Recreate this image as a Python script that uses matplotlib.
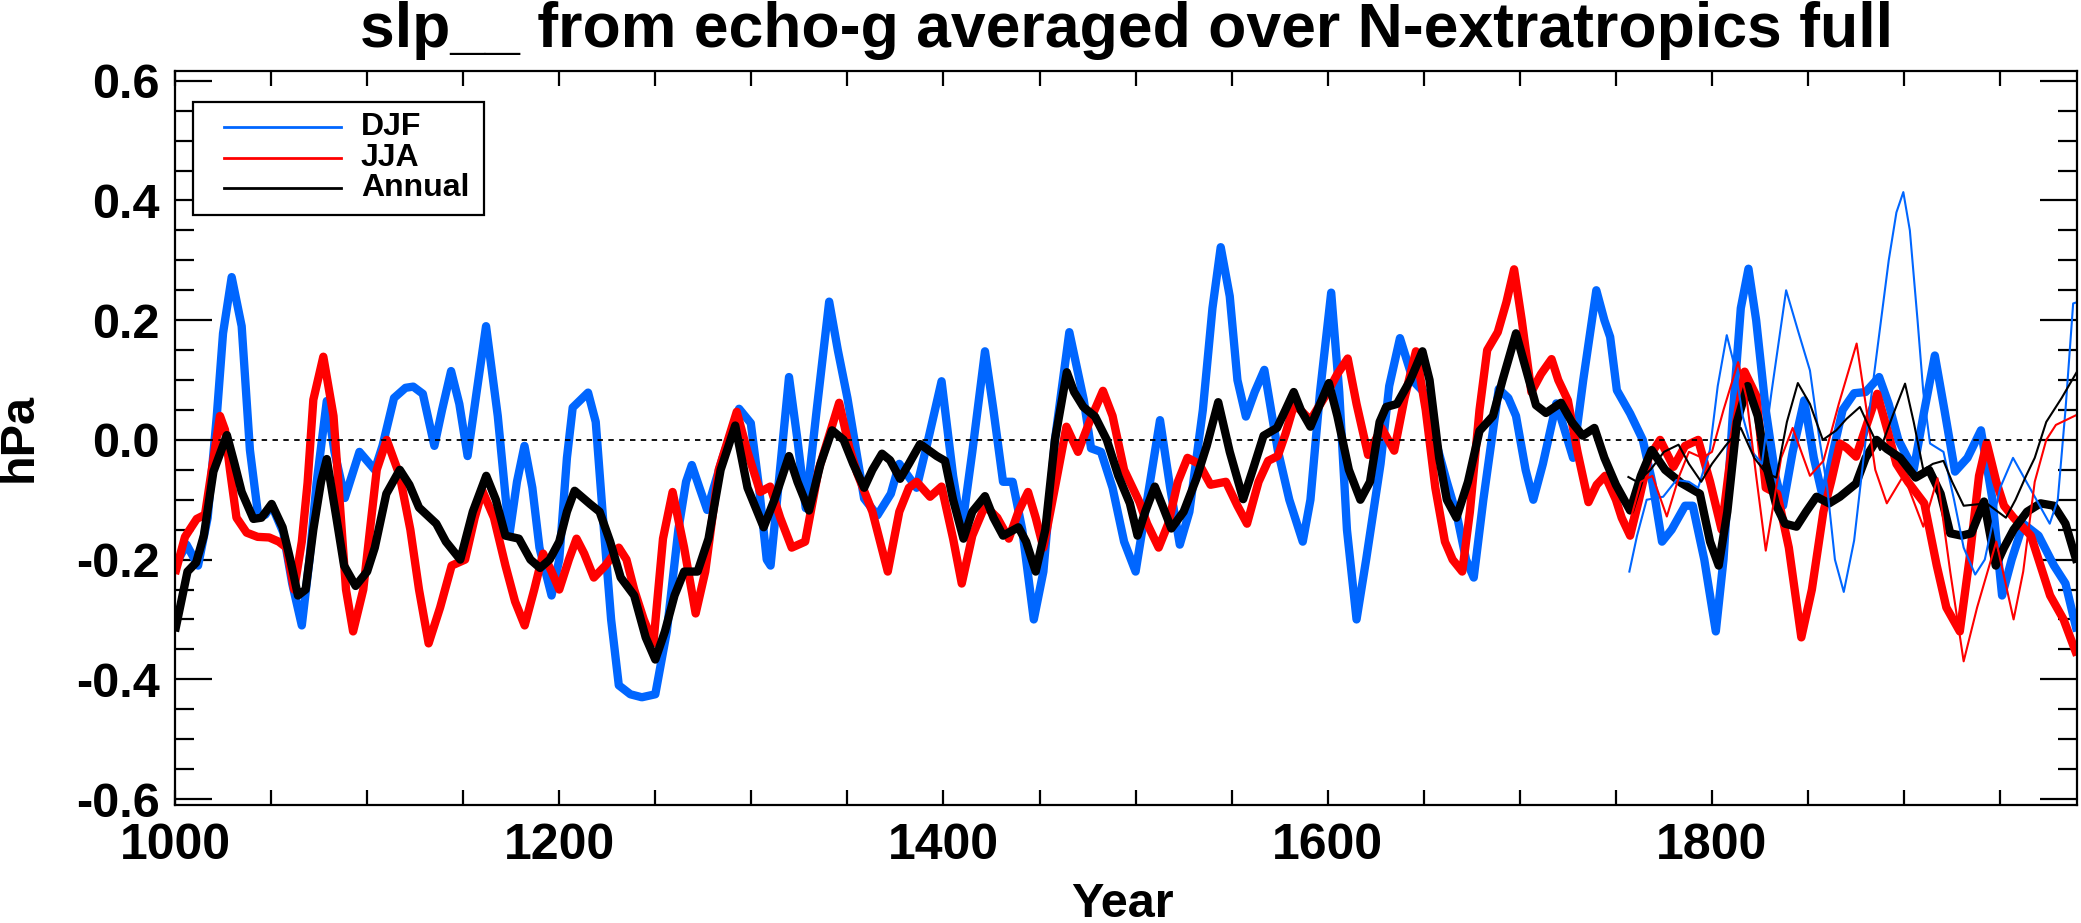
import numpy as np
import matplotlib
matplotlib.use("Agg")
import matplotlib.pyplot as plt
from matplotlib.ticker import MultipleLocator, FuncFormatter
from matplotlib.patches import Rectangle
from matplotlib.lines import Line2D

# ---- data (year, hPa) ----
djf_year = [1000, 1006, 1012, 1017, 1021.7, 1025, 1029.5, 1034.7, 1039, 1043.4, 1047, 1050.3,
            1056.4, 1061, 1066, 1070, 1073.7, 1079, 1083, 1088.4, 1096, 1104, 1108, 1114, 1120,
            1124, 1129, 1135, 1139, 1143.7, 1148, 1152.3, 1157, 1161.9, 1168, 1174, 1178, 1181.9,
            1186, 1189.7, 1196, 1200, 1204, 1207, 1215, 1219, 1223, 1227, 1231, 1237, 1243, 1250,
            1256, 1262, 1266, 1269, 1273, 1277, 1285, 1293.6, 1299.7, 1304, 1308, 1310, 1314,
            1319.6, 1324, 1328.3, 1334, 1340.5, 1345, 1350, 1358.7, 1365.6, 1372.6, 1377, 1386,
            1392, 1399, 1405, 1409.5, 1415, 1421.6, 1426, 1431, 1436, 1441, 1447, 1452, 1458,
            1465.5, 1473, 1476.8, 1482, 1488, 1494, 1500, 1505, 1512.7, 1518, 1523, 1528, 1535,
            1540, 1544.3, 1549, 1553, 1557.4, 1562, 1567, 1574, 1580, 1587, 1591, 1596, 1601.8,
            1606, 1610, 1615, 1620, 1627.5, 1632, 1637.6, 1644.6, 1650, 1656, 1662, 1667.5, 1672,
            1676, 1681, 1689, 1694, 1698, 1703, 1707, 1712, 1719, 1723, 1727.7, 1733, 1739.8,
            1744, 1747, 1750.5, 1757.4, 1764, 1769, 1774, 1779, 1786, 1790, 1796, 1802, 1806,
            1811, 1815, 1819, 1823, 1828, 1833, 1837, 1842, 1848, 1853, 1858, 1863, 1868, 1874,
            1880, 1887, 1892, 1897, 1905, 1910, 1916, 1921, 1926.5, 1933, 1940, 1946, 1951, 1956,
            1962, 1970, 1978, 1984, 1990]
djf_val = [-0.21, -0.175, -0.21, -0.13, 0.038, 0.178, 0.272, 0.19, -0.017, -0.129, -0.125, -0.109,
           -0.155, -0.24, -0.31, -0.2, -0.072, 0.065, -0.02, -0.097, -0.02, -0.05, -0.01, 0.07, 0.087,
           0.089, 0.077, -0.01, 0.05, 0.115, 0.06, -0.027, 0.08, 0.19, 0.04, -0.16, -0.07, -0.01,
           -0.08, -0.18, -0.26, -0.2, -0.03, 0.054, 0.079, 0.03, -0.14, -0.3, -0.41, -0.425, -0.43, -0.425,
           -0.32, -0.15, -0.07, -0.042, -0.08, -0.117, -0.03, 0.052, 0.028, -0.08, -0.2, -0.21, -0.08,
           0.105, 0.0, -0.114, 0.05, 0.231, 0.15, 0.07, -0.098, -0.126, -0.09, -0.04, -0.08,
           0.0, 0.098, -0.06, -0.15, -0.02, 0.148, 0.05, -0.07, -0.07, -0.15, -0.3, -0.22, 0.0,
           0.18, 0.067, -0.014, -0.02, -0.08, -0.17, -0.22, -0.12, 0.033, -0.08, -0.175, -0.12, 0.05,
           0.22, 0.322, 0.24, 0.1, 0.039, 0.08, 0.117, -0.017, -0.1, -0.17, -0.1, 0.08, 0.246,
           0.08, -0.15, -0.3, -0.2, -0.04, 0.09, 0.17, 0.098, 0.08, 0.0, -0.07, -0.13, -0.2,
           -0.23, -0.1, 0.085, 0.07, 0.04, -0.05, -0.1, -0.04, 0.061, 0.02, -0.03, 0.1, 0.25,
           0.2, 0.172, 0.083, 0.044, 0.0, -0.072, -0.17, -0.15, -0.11, -0.11, -0.2, -0.32, -0.2,
           0.05, 0.22, 0.286, 0.2, 0.05, -0.06, -0.11, -0.02, 0.066, -0.03, -0.1, -0.02, 0.05, 0.078,
           0.08, 0.105, 0.06, 0.0, -0.05, 0.04, 0.141, 0.05, -0.053, -0.03, 0.016, -0.1, -0.26, -0.2,
           -0.14, -0.16, -0.21, -0.24, -0.32]

jja_year = [1000, 1005.2, 1011.3, 1015.6, 1019, 1023.4, 1026, 1028.6, 1032, 1037.3, 1043, 1049,
            1054, 1058, 1062, 1066, 1069, 1072, 1077.2, 1082.5, 1085, 1089, 1092.7, 1098, 1105,
            1110.2, 1117, 1122.5, 1127, 1132, 1138, 1144, 1151, 1156, 1160, 1166, 1172, 1177, 1182,
            1187, 1191.6, 1196, 1200, 1205, 1209, 1213, 1218, 1224, 1231, 1235, 1239, 1244, 1249,
            1254, 1259, 1265, 1271, 1276, 1283, 1292.4, 1298, 1304.6, 1309.8, 1315, 1321, 1328,
            1335, 1345.7, 1351, 1355, 1363, 1371, 1377, 1382, 1386, 1393, 1399, 1405, 1409.5, 1415,
            1421.6, 1428, 1434, 1439, 1444, 1448, 1452, 1458, 1464, 1470, 1476, 1483, 1488, 1494,
            1502, 1506, 1512, 1517, 1522, 1527, 1533, 1539, 1547, 1553, 1558, 1564, 1569, 1574,
            1578, 1582.6, 1591, 1600, 1605, 1610.4, 1615, 1621, 1628, 1634.6, 1640, 1645.9, 1651,
            1656, 1661, 1665, 1670, 1674, 1679, 1683, 1688.5, 1693, 1697, 1701, 1706, 1711, 1716.5,
            1720, 1725, 1730, 1735.7, 1740, 1744.4, 1750, 1753, 1757.4, 1762, 1767, 1773, 1780,
            1786, 1792.8, 1799, 1805, 1810, 1817, 1823, 1828, 1834, 1840, 1846.5, 1852, 1858, 1862,
            1866.6, 1870, 1875, 1880, 1886, 1891, 1896, 1902, 1910.5, 1917, 1922, 1929, 1934, 1939,
            1943, 1948, 1952, 1957, 1966, 1970, 1976, 1983, 1990]
jja_val = [-0.224, -0.162, -0.132, -0.125, -0.053, 0.04, 0.017, -0.05, -0.13, -0.155, -0.162, -0.163,
           -0.17, -0.18, -0.25, -0.17, -0.072, 0.067, 0.139, 0.04, -0.07, -0.25, -0.32, -0.25, -0.05,
           0.0, -0.06, -0.15, -0.25, -0.34, -0.28, -0.21, -0.2, -0.13, -0.085, -0.13, -0.21, -0.27, -0.31,
           -0.25, -0.19, -0.22, -0.25, -0.2, -0.165, -0.19, -0.23, -0.21, -0.18, -0.2, -0.25, -0.3, -0.34,
           -0.165, -0.087, -0.18, -0.29, -0.22, -0.05, 0.047, -0.02, -0.087, -0.078, -0.13, -0.18, -0.17,
           -0.05, 0.062, -0.013, -0.055, -0.12, -0.22, -0.12, -0.08, -0.07, -0.095, -0.078, -0.165, -0.24, -0.16,
           -0.11, -0.13, -0.165, -0.12, -0.087, -0.13, -0.18, -0.08, 0.022, -0.02, 0.03, 0.082, 0.04, -0.05,
           -0.104, -0.14, -0.18, -0.14, -0.07, -0.03, -0.04, -0.075, -0.07, -0.11, -0.14, -0.07, -0.035, -0.027,
           0.01, 0.06, 0.033, 0.08, 0.11, 0.136, 0.06, -0.025, 0.02, -0.018, 0.07, 0.148, 0.05,
           -0.08, -0.17, -0.2, -0.22, -0.12, 0.05, 0.15, 0.18, 0.23, 0.285, 0.2, 0.08, 0.11, 0.135,
           0.1, 0.066, -0.02, -0.104, -0.075, -0.06, -0.1, -0.13, -0.16, -0.1, -0.03, 0.0, -0.045,
           -0.01, 0.0, -0.07, -0.15, -0.02, 0.114, 0.074, -0.08, -0.09, -0.18, -0.33, -0.25, -0.12, -0.07,
           -0.006, -0.013, -0.028, 0.02, 0.077, 0.02, -0.04, -0.07, -0.106, -0.21, -0.28, -0.32, -0.2, -0.06,
           -0.005, -0.07, -0.11, -0.13, -0.16, -0.2, -0.26, -0.3, -0.36]

ann_year = [1000, 1006.5, 1011, 1015, 1020, 1027, 1031, 1034.7, 1040.8, 1045, 1050.3, 1056, 1060,
            1064, 1068, 1072, 1076, 1079, 1084, 1088, 1094, 1100, 1104, 1110, 1117, 1122, 1127, 1136,
            1141, 1148.5, 1155, 1162, 1167, 1172, 1179, 1185, 1190, 1195, 1200, 1204, 1208, 1216,
            1221, 1226.5, 1232, 1239, 1245, 1250, 1255, 1260, 1265, 1272, 1277.7, 1284, 1291.6, 1298,
            1306.4, 1312, 1319.6, 1324, 1330, 1336, 1342, 1348, 1353, 1358.7, 1363, 1368, 1372.2,
            1377.4, 1382, 1387.8, 1396.5, 1400.8, 1405, 1410.4, 1415, 1421.6, 1426, 1431, 1439, 1443,
            1448, 1453, 1458, 1464.2, 1468, 1472.8, 1478.9, 1485, 1491, 1497, 1501, 1505, 1510, 1514,
            1518.6, 1525, 1531.6, 1537, 1543, 1549, 1556, 1561, 1566.6, 1573.6, 1578, 1582.3, 1586,
            1591, 1596, 1600.6, 1605, 1611, 1617, 1622, 1627, 1630.4, 1636, 1643, 1649.3, 1653, 1658,
            1662, 1667, 1673, 1679, 1686, 1691, 1698, 1703, 1708.4, 1713.6, 1721.4, 1727, 1732.7,
            1738.8, 1744, 1750, 1757.4, 1763, 1768.6, 1775.6, 1784, 1793.7, 1799, 1803.5, 1808, 1813,
            1818.5, 1823.8, 1828, 1833.5, 1838, 1844, 1849, 1854.4, 1861, 1866.6, 1875, 1880, 1885.7,
            1891, 1898, 1906, 1913, 1919, 1924, 1930, 1935, 1941.6, 1947.7, 1952, 1957, 1964, 1971,
            1978, 1984, 1990]
ann_val = [-0.32, -0.22, -0.205, -0.16, -0.053, 0.008, -0.04, -0.087, -0.132, -0.13, -0.107, -0.146, -0.2,
           -0.26, -0.25, -0.15, -0.07, -0.032, -0.13, -0.21, -0.244, -0.22, -0.18, -0.09, -0.05, -0.075, -0.113, -0.14,
           -0.17, -0.2, -0.12, -0.06, -0.1, -0.16, -0.165, -0.2, -0.214, -0.2, -0.17, -0.12, -0.085, -0.107,
           -0.12, -0.17, -0.23, -0.26, -0.33, -0.367, -0.32, -0.26, -0.22, -0.22, -0.165, -0.05, 0.024, -0.08,
           -0.146, -0.1, -0.027, -0.07, -0.118, -0.04, 0.016, 0.0, -0.04, -0.08, -0.05, -0.023, -0.034,
           -0.065, -0.04, -0.007, -0.027, -0.035, -0.1, -0.165, -0.12, -0.094, -0.13, -0.16, -0.146, -0.17,
           -0.22, -0.15, 0.0, 0.113, 0.08, 0.055, 0.039, 0.0, -0.06, -0.106, -0.16, -0.12, -0.078, -0.11,
           -0.148, -0.12, -0.065, -0.01, 0.063, -0.02, -0.099, -0.05, 0.007, 0.02, 0.05, 0.08, 0.05,
           0.022, 0.06, 0.095, 0.04, -0.05, -0.1, -0.07, 0.03, 0.055, 0.06, 0.1, 0.148, 0.1, -0.03,
           -0.1, -0.13, -0.07, 0.015, 0.04, 0.1, 0.178, 0.12, 0.058, 0.045, 0.062, 0.03, 0.007,
           0.02, -0.03, -0.075, -0.118, -0.06, -0.017, -0.05, -0.072, -0.09, -0.17, -0.21, -0.12, 0.03,
           0.09, 0.04, -0.04, -0.11, -0.14, -0.145, -0.12, -0.095, -0.106, -0.095, -0.073, -0.03, 0.0,
           -0.015, -0.03, -0.063, -0.05, -0.09, -0.156, -0.16, -0.156, -0.103, -0.21, -0.18, -0.15, -0.12, -0.106,
           -0.11, -0.14, -0.205]

# second (thin) set, from 1756 on
djf2_year = [1757, 1761, 1766, 1774.6, 1781.5, 1788, 1792.8, 1798.9, 1803, 1807.7, 1812, 1816,
             1821, 1826, 1831, 1838.6, 1845, 1851, 1856, 1860, 1864, 1868.6, 1874, 1880, 1886,
             1892, 1896, 1899.6, 1903, 1907, 1910, 1913.5, 1920.5, 1926, 1931, 1937, 1942, 1950,
             1956.7, 1965.4, 1975.8, 1980, 1984, 1988, 1990]
djf2_val = [-0.22, -0.16, -0.10, -0.095, -0.067, -0.07, -0.08, -0.017, 0.09, 0.175, 0.12, 0.04,
            -0.02, -0.04, 0.08, 0.25, 0.18, 0.116, 0.0, -0.08, -0.2, -0.254, -0.168, 0.0, 0.15,
            0.3, 0.38, 0.414, 0.35, 0.2, 0.08, -0.006, -0.02, -0.1, -0.18, -0.225, -0.2, -0.08,
            -0.03, -0.08, -0.14, -0.1, 0.05, 0.228, 0.23]

jja2_year = [1757, 1763, 1769, 1776.5, 1783, 1788, 1795, 1800, 1806, 1813.6, 1818, 1823, 1828,
             1836, 1842, 1851, 1858, 1866, 1875.3, 1880, 1885, 1891, 1899.8, 1910, 1917.4, 1924,
             1931, 1938, 1948, 1957, 1962, 1968, 1974, 1979, 1990]
jja2_val = [-0.14, -0.07, -0.06, -0.128, -0.06, -0.02, -0.03, -0.02, 0.05, 0.13, 0.07, -0.06, -0.185,
            -0.03, 0.02, -0.06, -0.035, 0.06, 0.161, 0.06, -0.05, -0.106, -0.059, -0.145, -0.064, -0.22,
            -0.37, -0.28, -0.17, -0.30, -0.22, -0.07, 0.0, 0.025, 0.042]

ann2_year = [1756.5, 1761, 1768, 1775, 1782.6, 1788, 1794.4, 1800, 1807, 1815, 1822, 1828, 1833.5,
             1839, 1844.7, 1851, 1857.7, 1864.7, 1870, 1877, 1882, 1887.5, 1894, 1900.5, 1905, 1910,
             1915, 1920.5, 1925, 1931, 1943, 1953, 1958, 1963.5, 1968, 1974, 1982, 1990]
ann2_val = [-0.062, -0.07, -0.05, -0.02, -0.008, -0.04, -0.07, -0.04, -0.01, 0.02, -0.03, -0.055, -0.063,
            0.03, 0.095, 0.06, 0.0, 0.016, 0.035, 0.055, 0.02, -0.017, 0.04, 0.094, 0.03, -0.05,
            -0.04, -0.035, -0.07, -0.11, -0.106, -0.13, -0.1, -0.06, -0.03, 0.03, 0.07, 0.114]

BLUE = "#0066ff"
RED = "#ff0000"
BLACK = "#000000"

plt.rcParams['font.family'] = ['Liberation Sans', 'DejaVu Sans']
plt.rcParams['font.weight'] = 'bold'

W, H = 2081, 923
fig = plt.figure(figsize=(W / 100, H / 100), dpi=100)
ax = fig.add_axes([175 / W, 1 - 805 / H, 1902 / W, 734.4 / H])

thick = 6.0
thin = 1.5
ax.plot(djf_year, djf_val, color=BLUE, lw=thick, solid_joinstyle='round', solid_capstyle='butt')
ax.plot(jja_year, jja_val, color=RED, lw=thick, solid_joinstyle='round', solid_capstyle='butt')
ax.plot(ann_year, ann_val, color=BLACK, lw=thick, solid_joinstyle='round', solid_capstyle='butt')
ax.plot(djf2_year, djf2_val, color=BLUE, lw=thin, solid_joinstyle='round')
ax.plot(jja2_year, jja2_val, color=RED, lw=thin, solid_joinstyle='round')
ax.plot(ann2_year, ann2_val, color=BLACK, lw=thin, solid_joinstyle='round')
ax.axhline(0, color='black', lw=1.3, ls=(0, (3, 3)))

ax.set_xlim(1000, 1990)
ax.set_ylim(-0.61, 0.617)

ax.xaxis.set_major_locator(MultipleLocator(200))
ax.xaxis.set_minor_locator(MultipleLocator(50))
ax.yaxis.set_major_locator(MultipleLocator(0.2))
ax.yaxis.set_minor_locator(MultipleLocator(0.05))
ax.yaxis.set_major_formatter(FuncFormatter(lambda v, p: f"{v:.1f}" if abs(v) > 1e-9 else "0.0"))

ax.tick_params(axis='both', which='both', direction='in', top=True, right=True, width=1.6, color='black')
ax.tick_params(axis='x', which='both', length=10.5, pad=13, labelsize=36)
ax.tick_params(axis='y', which='major', length=26.5, pad=11, labelsize=35)
ax.tick_params(axis='y', which='minor', length=13.5)
for t in ax.get_xticklabels() + ax.get_yticklabels():
    t.set_fontweight('bold')
for s in ax.spines.values():
    s.set_linewidth(1.6)

fig.text(1126 / W, 1 - 47 / H, "slp__ from echo-g averaged over N-extratropics full",
         ha='center', va='baseline', fontsize=45, fontweight='bold')
fig.text(1122 / W, 1 - 917 / H, "Year", ha='center', va='baseline', fontsize=35, fontweight='bold')
fig.text(19 / W, 1 - 438 / H, "hPa", ha='center', va='center', rotation=90, fontsize=35,
         fontweight='bold')

# legend box drawn in axes fraction
def ax_frac(px, py):
    return (px - 175) / 1902, 1 - (py - 70.6) / 734.4

x0, y0 = ax_frac(193, 215)
x1, y1 = ax_frac(484, 101.7)
ax.add_patch(Rectangle((x0, y0), x1 - x0, y1 - y0, transform=ax.transAxes, fill=True,
                       facecolor='white', edgecolor='black', lw=1.6, zorder=5))
for label, col, py in [("DJF", BLUE, 127), ("JJA", RED, 158), ("Annual", BLACK, 188)]:
    lx0, ly = ax_frac(224, py)
    lx1, _ = ax_frac(341, py)
    ax.add_line(Line2D([lx0, lx1], [ly, ly], transform=ax.transAxes, color=col, lw=2.0, zorder=6))
    tx, _ = ax_frac(361, py)
    ax.text(tx, ly, label, transform=ax.transAxes, ha='left', va='center', fontsize=23,
            fontweight='bold', zorder=6)

fig.savefig("out.png", dpi=100)
